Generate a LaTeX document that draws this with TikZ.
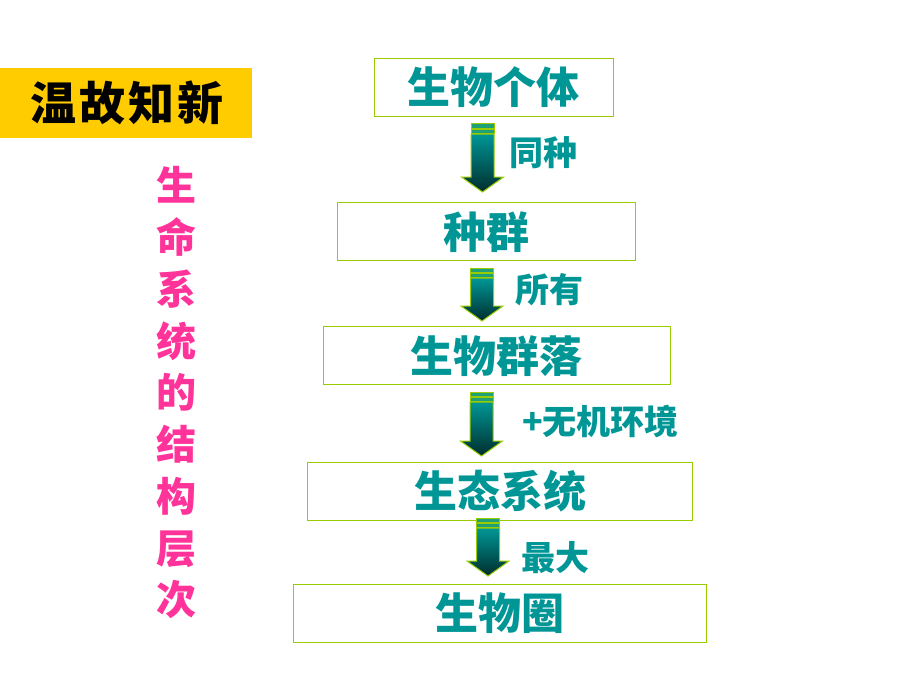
\documentclass[tikz,border=0pt]{standalone}
\usepackage{fontspec}
\newfontfamily\cjk{Noto Sans CJK SC}
\usetikzlibrary{positioning}

\definecolor{tealtext}{RGB}{0,150,150}
\definecolor{hotpink}{RGB}{255,51,153}
\definecolor{limeline}{RGB}{153,204,0}
\definecolor{gold}{RGB}{255,204,0}
\definecolor{deepteal}{RGB}{0,45,45}

\tikzset{
  level/.style={draw=limeline, line width=1pt, inner sep=0pt,
    minimum height=58pt, text=tealtext,
    font=\cjk\bfseries\fontsize{43}{43}\selectfont},
  steplabel/.style={anchor=west, inner sep=0pt, text=tealtext,
    font=\cjk\bfseries\fontsize{34}{34}\selectfont},
  arrowbody/.style={top color=tealtext, bottom color=deepteal,
    draw=limeline, line width=1pt},
  arrowbar/.style={fill=tealtext!80!limeline, draw=limeline, line width=1pt},
  pics/levelarrow/.style={code={
    \path[arrowbar] (-11.5,0) rectangle (11.5,4.5);
    \path[arrowbar] (-11.5,5) rectangle (11.5,9.5);
    \path[arrowbody] (-11.5,10) -- (11.5,10) -- (11.5,#1-15) -- (21,#1-15)
      -- (0,#1) -- (-21,#1-15) -- (-11.5,#1-15) -- cycle;
  }}
}

\begin{document}
\begin{tikzpicture}[x=1pt,y=-1pt]
  \useasboundingbox (0,0) rectangle (920,690);

  % title
  \node[fill=gold, minimum width=252pt, minimum height=70pt, inner sep=0pt]
    (title) at (126,103) {};
  \node[font=\cjk\bfseries\fontsize{46}{46}\selectfont] (titletext) at (126.7,103)
    {温\hspace{3pt}故\hspace{3pt}知\hspace{3pt}新};

  \node[text=hotpink, align=center, inner sep=0pt,
        font=\cjk\bfseries\fontsize{40}{51.75}\selectfont] (side) at (176.7,393)
    {生\\命\\系\\统\\的\\结\\构\\层\\次};

  % levels
  \node[level, minimum width=239pt]   (indiv)   at (493.5,87.5) {生物个体};
  \node[level, minimum width=297.7pt] (popul)   at (486.2,231.7) {种群};
  \node[level, minimum width=347pt]   (commun)  at (496.5,355.8) {生物群落};
  \node[level, minimum width=384.7pt] (ecosys)  at (500.3,491) {生态系统};
  \node[level, minimum width=413.4pt] (biosph)  at (500,613) {生物圈};

  % arrows between levels
  \pic at (482.5,124) {levelarrow=68};
  \pic at (482,268)   {levelarrow=53};
  \pic at (481.5,392) {levelarrow=64};
  \pic at (488,518)   {levelarrow=58};

  \node[steplabel] (same)  at (509,153)   {同种};
  \node[steplabel] (all)   at (515,290)   {所有};
  \node[steplabel] (env)   at (522,421.7) {+无机环境};
  \node[steplabel] (large) at (521,558)   {最大};
\end{tikzpicture}
\end{document}
